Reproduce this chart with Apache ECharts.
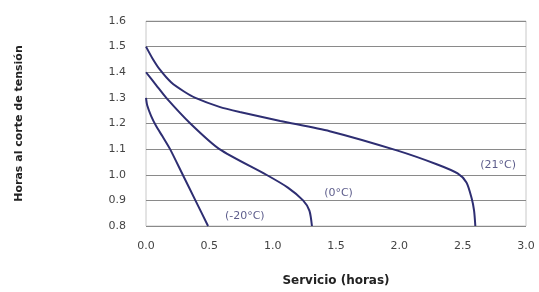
<!DOCTYPE html>
<html>
<head>
<meta charset="utf-8">
<script src="https://cdn.jsdelivr.net/npm/echarts@6/dist/echarts.min.js"></script>
<style>
html, body { margin: 0; padding: 0; background: #fff; }
#chart { width: 539px; height: 292px; }
</style>
</head>
<body>
<div id="chart"></div>
<script>
// curvas de descarga [horas, voltios]
var serie21 = [[0, 1.5], [0.05, 1.455], [0.11, 1.41], [0.2, 1.36], [0.3, 1.325], [0.39, 1.3], [0.58, 1.265],
    [0.74, 1.245], [1.06, 1.21], [1.45, 1.17], [1.98, 1.095], [2.3, 1.04], [2.46, 1.005], [2.53, 0.97],
    [2.57, 0.91], [2.59, 0.86], [2.6, 0.8]];
var serie0 = [[0, 1.4], [0.08, 1.35], [0.16, 1.3], [0.35, 1.2], [0.58, 1.1], [0.95, 1.0], [1.12, 0.95],
    [1.24, 0.9], [1.29, 0.86], [1.31, 0.8]];
var serieM20 = [[0, 1.3], [0.01, 1.27], [0.04, 1.23], [0.08, 1.19], [0.13, 1.15], [0.19, 1.1], [0.29, 1.0],
    [0.39, 0.9], [0.49, 0.8]];
var etiquetas = [
    {name: '(21°C)', value: [2.78, 1.037]},
    {name: '(0°C)', value: [1.52, 0.927]},
    {name: '(-20°C)', value: [0.78, 0.84]}
];
var xTicks = [0, 3, 0.5];
var yTicks = [0.8, 1.6, 0.1];

var chart = echarts.init(document.getElementById('chart'));

var lineColor = '#2e2e72';

function curva(data) {
    return {
        type: 'line',
        data: data,
        smooth: 0.25,
        showSymbol: false,
        lineStyle: {color: lineColor, width: 2},
        silent: true
    };
}

var option = {
    animation: false,
    grid: {
        left: 146,
        right: 13,
        top: 21,
        bottom: 64,
        show: true,
        borderColor: '#c8c8c8',
        borderWidth: 1
    },
    xAxis: {
        type: 'value',
        min: xTicks[0],
        max: xTicks[1],
        interval: xTicks[2],
        name: 'Servicio (horas)',
        nameLocation: 'middle',
        nameGap: 49,
        nameTextStyle: {fontFamily: 'DejaVu Sans', fontSize: 12, fontWeight: 'bold', color: '#222'},
        axisLine: {show: false},
        axisTick: {show: false},
        splitLine: {show: false},
        axisLabel: {
            fontFamily: 'DejaVu Sans', fontSize: 11, color: '#444', margin: 15,
            formatter: function (v) { return v.toFixed(1); }
        }
    },
    yAxis: {
        type: 'value',
        min: yTicks[0],
        max: yTicks[1],
        interval: yTicks[2],
        name: 'Horas al corte de tensión',
        nameLocation: 'middle',
        nameGap: 121,
        nameTextStyle: {fontFamily: 'DejaVu Sans', fontSize: 11, fontWeight: 'bold', color: '#222'},
        axisLine: {show: false},
        axisTick: {show: false},
        splitLine: {lineStyle: {color: '#8a8a8a', width: 1}},
        axisLabel: {
            fontFamily: 'DejaVu Sans', fontSize: 11, color: '#444', margin: 20,
            formatter: function (v) { return v.toFixed(1); }
        }
    },
    series: [
        curva(serie21),
        curva(serie0),
        curva(serieM20),
        {
            type: 'scatter',
            data: etiquetas,
            symbolSize: 0,
            silent: true,
            label: {
                show: true,
                position: 'inside',
                formatter: '{b}',
                fontFamily: 'DejaVu Sans',
                fontSize: 11,
                color: '#33336e'
            }
        }
    ]
};

chart.setOption(option);
</script>
</body>
</html>
